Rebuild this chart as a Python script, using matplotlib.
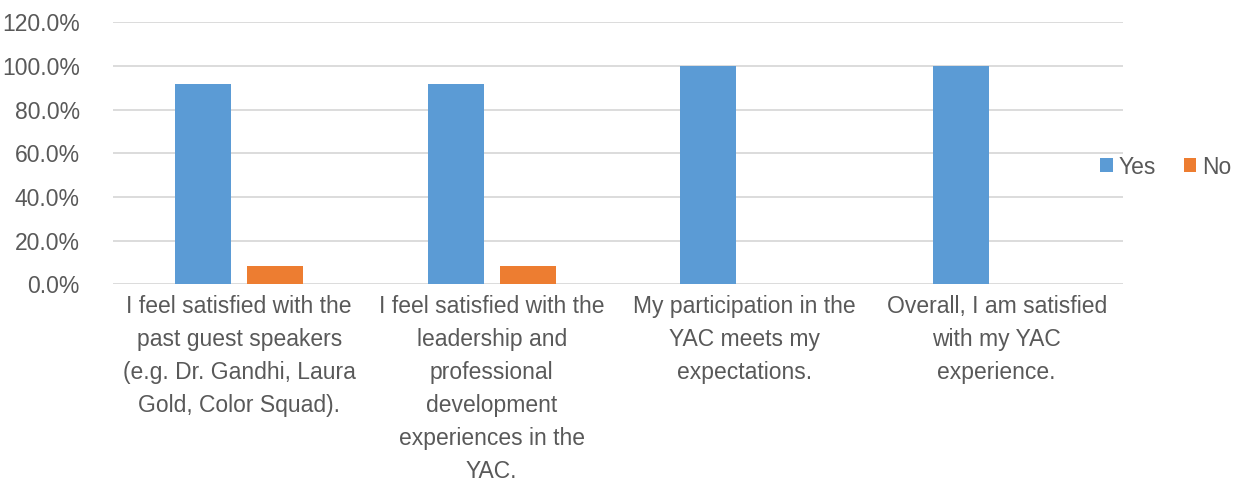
import matplotlib
matplotlib.use("Agg")
import matplotlib.pyplot as plt
import numpy as np
from matplotlib.ticker import PercentFormatter, MultipleLocator

categories = [
    "I feel satisfied with the\npast guest speakers\n(e.g. Dr. Gandhi, Laura\nGold, Color Squad).",
    "I feel satisfied with the\nleadership and\nprofessional\ndevelopment\nexperiences in the\nYAC.",
    "My participation in the\nYAC meets my\nexpectations.",
    "Overall, I am satisfied\nwith my YAC\nexperience.",
]
yes_values = [91.7, 91.7, 100.0, 100.0]
no_values = [8.3, 8.3, 0.0, 0.0]
series_names = ["Yes", "No"]

plt.rcParams["font.family"] = ["Liberation Sans", "DejaVu Sans"]

fig = plt.figure(figsize=(12.36, 4.97), dpi=100)
ax = fig.add_axes([113 / 1236, 1 - 284.3 / 497, 1010 / 1236, (284.3 - 22.3) / 497])

x = np.arange(len(categories))
width = 0.222
offset = 0.143
blue = "#5B9BD5"
orange = "#ED7D31"
ax.bar(x - offset, yes_values, width, color=blue, label=series_names[0], zorder=3)
ax.bar(x + offset, no_values, width, color=orange, label=series_names[1], zorder=3)

ax.set_xlim(-0.5, len(categories) - 0.5)
ax.set_ylim(0, 120)
ax.yaxis.set_major_locator(MultipleLocator(20))
ax.yaxis.set_major_formatter(PercentFormatter(decimals=1))
ax.grid(axis="y", color="#d9d9d9", linewidth=1.3, zorder=0)
for s in ax.spines.values():
    s.set_visible(False)
ax.tick_params(axis="both", length=0, labelsize=16.5, labelcolor="#595959")
ax.tick_params(axis="y", pad=24)
ax.tick_params(axis="x", pad=8)
ax.set_xticks(x)
ax.set_xticklabels(categories, linespacing=1.55)

fig.legend(loc="center left", bbox_to_anchor=(1098 / 1236, 1 - 167 / 497),
           ncol=2, frameon=False, fontsize=16.5, labelcolor="#595959",
           handlelength=0.55, handleheight=0.55, handletextpad=0.25,
           columnspacing=1.2, borderpad=0.1, borderaxespad=0.0)

fig.savefig("out.png", dpi=100, facecolor="white")
